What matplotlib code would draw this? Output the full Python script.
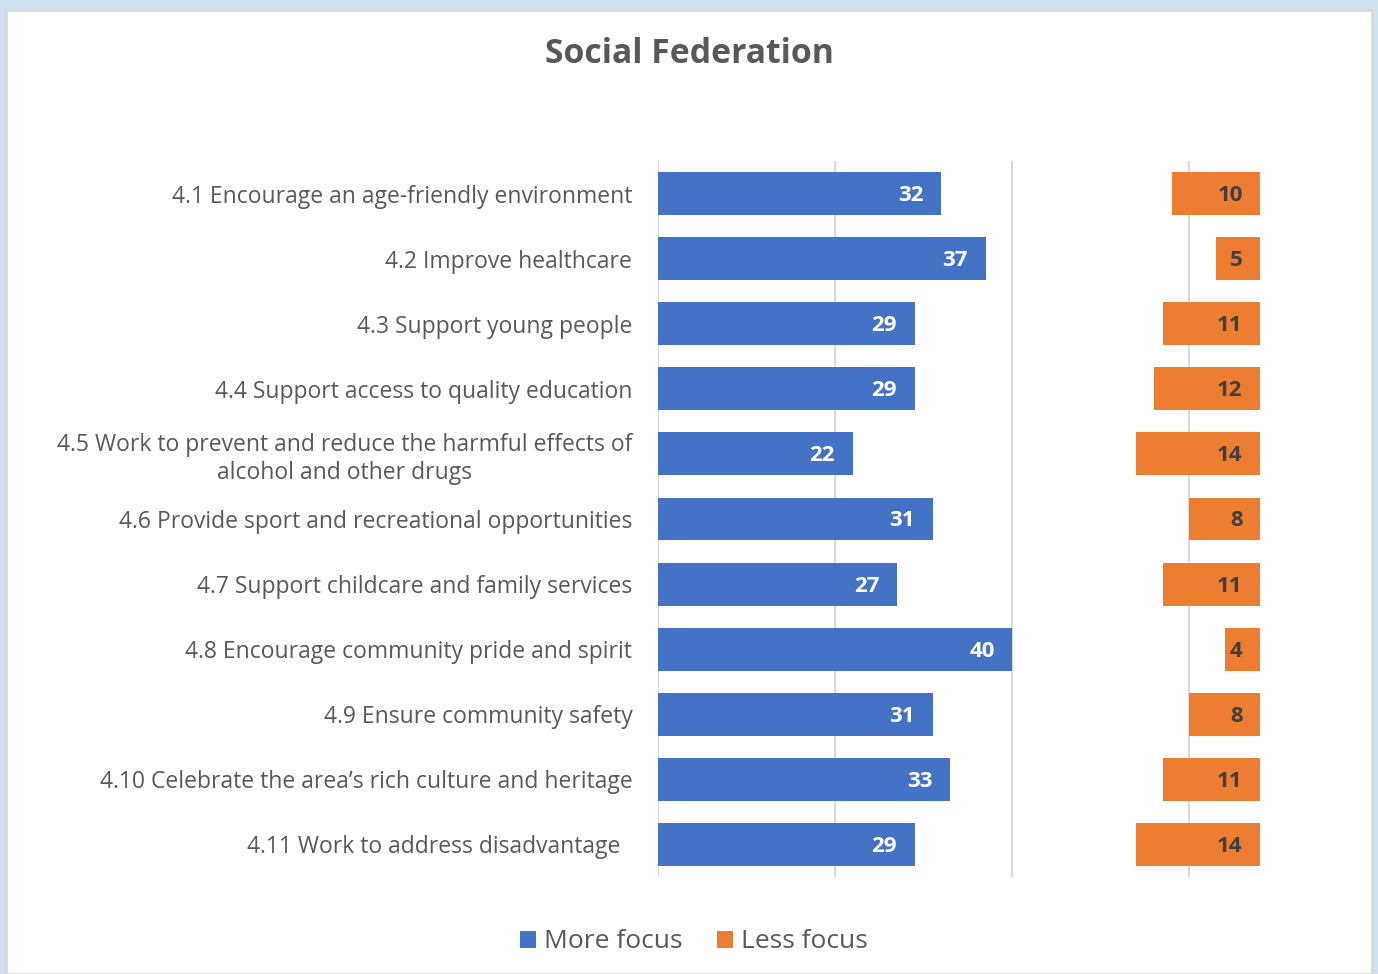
import matplotlib.pyplot as plt
from matplotlib.patches import Rectangle

plt.rcParams['font.family'] = ['Open Sans', 'DejaVu Sans']

categories = [
    "4.1 Encourage an age-friendly environment",
    "4.2 Improve healthcare",
    "4.3 Support young people",
    "4.4 Support access to quality education",
    "4.5 Work to prevent and reduce the harmful effects of\nalcohol and other drugs",
    "4.6 Provide sport and recreational opportunities",
    "4.7 Support childcare and family services",
    "4.8 Encourage community pride and spirit",
    "4.9 Ensure community safety",
    "4.10 Celebrate the area\u2019s rich culture and heritage",
    "4.11 Work to address disadvantage  ",
]
more_focus = [32, 37, 29, 29, 22, 31, 27, 40, 31, 33, 29]
less_focus = [10, 5, 11, 12, 14, 8, 11, 4, 8, 11, 14]

blue = '#4472c4'
orange = '#ed7d31'
text_col = '#595959'
total = 68  # orange bars are right-aligned on this value

fig = plt.figure(figsize=(13.78, 9.74), dpi=100, facecolor='#cfe0f1')
# white chart area with thin grey edge
fig.patches.append(Rectangle((6 / 1378, 0), 1366 / 1378, 964 / 974, transform=fig.transFigure,
                             facecolor='white', edgecolor='#d9d9d9', linewidth=2, zorder=-5))

ax = fig.add_axes([658 / 1378, 1 - 877 / 974, 620 / 1378, 716 / 974])
ax.set_facecolor('none')
y = list(range(len(categories)))
left_less = [total - v for v in less_focus]

b1 = ax.barh(y, more_focus, height=0.66, color=blue, label='More focus', zorder=3)
b2 = ax.barh(y, less_focus, left=left_less, height=0.66, color=orange, label='Less focus', zorder=3)

for yi, v in zip(y, more_focus):
    ax.text(v - 2, yi + 0.03, str(v), ha='right', va='center', color='white',
            fontsize=16, fontweight='bold', zorder=4)
for yi, v in zip(y, less_focus):
    ax.text(total - 2, yi + 0.03, str(v), ha='right', va='center', color='#404040',
            fontsize=16, fontweight='bold', zorder=4)

ax.set_xlim(0, 70)
ax.set_ylim(len(categories) - 0.5, -0.5)
ax.set_xticks([0, 20, 40, 60])
ax.xaxis.grid(True, color='#d9d9d9', linewidth=1.5)
ax.set_axisbelow(True)
ax.tick_params(axis='x', length=0, labelbottom=False)
ax.tick_params(axis='y', length=0, pad=18.5)
ax.set_yticks(y)
ax.set_yticklabels(categories, fontsize=16.5, color=text_col, multialignment='center',
                   linespacing=1.2)
for s in ax.spines.values():
    s.set_visible(False)

fig.text(0.5, 1 - 54 / 974, 'Social Federation', ha='center', va='center',
         fontsize=24.3, fontweight='bold', color=text_col)

fig.legend(handles=[b1, b2], loc='center', bbox_to_anchor=(694 / 1378, 1 - 942 / 974),
           ncol=2, frameon=False, fontsize=19, labelcolor=text_col,
           handlelength=0.6, handleheight=0.6, handletextpad=0.3, columnspacing=1.3)

fig.savefig('out.png', dpi=100, facecolor=fig.get_facecolor())
